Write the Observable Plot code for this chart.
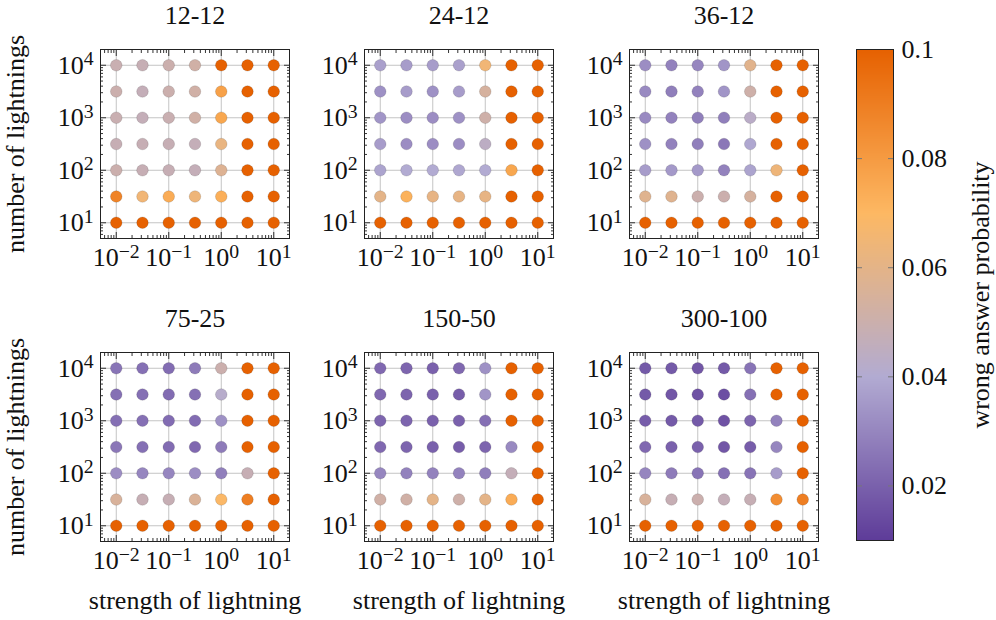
<!DOCTYPE html>
<html><head><meta charset="utf-8">
<script src="https://cdn.jsdelivr.net/npm/d3@7"></script>
<script src="https://cdn.jsdelivr.net/npm/@observablehq/plot@0.6"></script>
<style>
body{margin:0;background:#fff;}
#chart{position:relative;width:996px;height:620px;overflow:hidden;font-family:"Liberation Serif","Times New Roman",serif;}
#chart svg{position:absolute;max-width:none;}
#chart svg text{font-family:"Liberation Serif","Times New Roman",serif;font-variant-numeric:normal;}
</style></head><body><div id="chart"></div>
<script>
// strength of lightning (columns) and number of lightnings (rows, top -> bottom)
const strengths = [0.01, 0.0316, 0.1, 0.316, 1, 3.16, 10];
const lightnings = [10000, 3162, 1000, 316, 100, 31.6, 10];
const configs = ["12-12", "24-12", "36-12", "75-25", "150-50", "300-100"];

// wrong answer probability, rows follow `lightnings`, columns follow `strengths`
const prob_12_12 = [
  [0.049, 0.048, 0.050, 0.052, 0.100, 0.100, 0.100],
  [0.050, 0.047, 0.050, 0.052, 0.078, 0.100, 0.100],
  [0.049, 0.047, 0.049, 0.052, 0.076, 0.100, 0.100],
  [0.048, 0.048, 0.048, 0.047, 0.062, 0.100, 0.100],
  [0.050, 0.048, 0.048, 0.047, 0.057, 0.100, 0.100],
  [0.088, 0.065, 0.074, 0.064, 0.073, 0.100, 0.100],
  [0.100, 0.100, 0.100, 0.100, 0.100, 0.100, 0.100]
];
const prob_24_12 = [
  [0.037, 0.036, 0.036, 0.037, 0.065, 0.100, 0.100],
  [0.033, 0.036, 0.033, 0.036, 0.054, 0.100, 0.100],
  [0.034, 0.032, 0.032, 0.033, 0.051, 0.100, 0.100],
  [0.036, 0.032, 0.032, 0.032, 0.044, 0.100, 0.100],
  [0.038, 0.040, 0.040, 0.039, 0.040, 0.076, 0.100],
  [0.060, 0.072, 0.061, 0.061, 0.061, 0.100, 0.100],
  [0.100, 0.100, 0.100, 0.100, 0.100, 0.100, 0.100]
];
const prob_36_12 = [
  [0.032, 0.029, 0.030, 0.034, 0.059, 0.100, 0.100],
  [0.031, 0.028, 0.029, 0.034, 0.051, 0.100, 0.100],
  [0.031, 0.029, 0.028, 0.028, 0.043, 0.100, 0.100],
  [0.033, 0.029, 0.028, 0.026, 0.039, 0.100, 0.100],
  [0.036, 0.035, 0.035, 0.029, 0.038, 0.064, 0.100],
  [0.058, 0.058, 0.050, 0.050, 0.054, 0.100, 0.100],
  [0.100, 0.100, 0.100, 0.100, 0.100, 0.100, 0.100]
];
const prob_75_25 = [
  [0.025, 0.024, 0.023, 0.027, 0.050, 0.100, 0.100],
  [0.024, 0.024, 0.023, 0.024, 0.042, 0.100, 0.100],
  [0.024, 0.024, 0.023, 0.023, 0.033, 0.100, 0.100],
  [0.026, 0.024, 0.023, 0.022, 0.027, 0.100, 0.100],
  [0.032, 0.030, 0.030, 0.032, 0.028, 0.048, 0.100],
  [0.055, 0.048, 0.048, 0.056, 0.069, 0.090, 0.100],
  [0.100, 0.100, 0.100, 0.100, 0.100, 0.100, 0.100]
];
const prob_150_50 = [
  [0.022, 0.021, 0.020, 0.022, 0.033, 0.100, 0.100],
  [0.022, 0.021, 0.020, 0.019, 0.034, 0.100, 0.100],
  [0.021, 0.021, 0.020, 0.020, 0.024, 0.100, 0.100],
  [0.022, 0.021, 0.020, 0.019, 0.021, 0.031, 0.100],
  [0.030, 0.029, 0.029, 0.029, 0.028, 0.047, 0.100],
  [0.052, 0.052, 0.060, 0.051, 0.060, 0.074, 0.100],
  [0.100, 0.100, 0.100, 0.100, 0.100, 0.100, 0.100]
];
const prob_300_100 = [
  [0.018, 0.018, 0.017, 0.018, 0.025, 0.100, 0.100],
  [0.018, 0.017, 0.016, 0.015, 0.024, 0.100, 0.100],
  [0.019, 0.018, 0.018, 0.016, 0.021, 0.029, 0.100],
  [0.022, 0.020, 0.020, 0.017, 0.019, 0.030, 0.100],
  [0.030, 0.027, 0.025, 0.024, 0.025, 0.036, 0.100],
  [0.055, 0.048, 0.050, 0.047, 0.048, 0.085, 0.090],
  [0.100, 0.100, 0.100, 0.100, 0.100, 0.100, 0.100]
];
const probs = [prob_12_12, prob_24_12, prob_36_12, prob_75_25, prob_150_50, prob_300_100];

const xTicks = [0.01, 0.1, 1, 10];
const yTicks = [10, 100, 1000, 10000];
const colorTicks = [0.02, 0.04, 0.06, 0.08, 0.1];
const colorDomain = [0.01, 0.04, 0.07, 0.1];
const colorRange = ["#5e3c99", "#b2abd2", "#fdb863", "#e66101"];

const xLabel = "strength of lightning";
const yLabel = "number of lightnings";
const colorLabel = "wrong answer probability";

// ---------- layout ----------
const FONT = "Liberation Serif, Times New Roman, serif";
const FS = 26;
const PANEL = 189;
const colLeft = [100, 364, 629];
const rowTop = [49, 352];
const xDomain = [Math.pow(10, -2.3), Math.pow(10, 1.3)];
const yDomain = [Math.pow(10, 0.7), Math.pow(10, 4.3)];

function minorTicks(domain) {
  const out = [];
  for (let e = -4; e <= 5; e++) for (let k = 2; k <= 9; k++) {
    const v = k * Math.pow(10, e);
    if (v > domain[0] && v < domain[1]) out.push(v);
  }
  return out;
}
const xMinor = minorTicks(xDomain);
const yMinor = minorTicks(yDomain);
const logFmt = d => "10^" + String(Math.round(Math.log10(d))).replace("-", "\u2212");
const blank = () => "";

function superscript(svg) {
  d3.select(svg).selectAll('g[aria-label="x-axis tick label"] text, g[aria-label="y-axis tick label"] text').each(function () {
    const t = this.textContent;
    const parts = t.split("^");
    if (parts.length !== 2) return;
    const sel = d3.select(this);
    sel.text(null);
    sel.append("tspan").text(parts[0]);
    sel.append("tspan").attr("dy", "-0.42em").attr("font-size", "0.76em").text(parts[1]);
  });
}

const chart = document.getElementById("chart");
const colorScale = {type: "linear", domain: colorDomain, range: colorRange, clamp: true};

configs.forEach((name, i) => {
  const col = i % 3, row = Math.floor(i / 3);
  const table = [];
  lightnings.forEach((n, r) => strengths.forEach((s, c) => table.push({strength: s, lightnings: n, p: probs[i][r][c]})));
  const mL = 100, mT = 49, mR = 60, mB = 80;
  const tickAxes = (size) => [
    Plot.axisX({anchor: "bottom", ticks: size === 6 ? xTicks : xMinor, tickSize: size, dy: -size, tickFormat: blank, label: null, stroke: "#333"}),
    Plot.axisX({anchor: "top", ticks: size === 6 ? xTicks : xMinor, tickSize: size, dy: size, tickFormat: blank, label: null, stroke: "#333"}),
    Plot.axisY({anchor: "left", ticks: size === 6 ? yTicks : yMinor, tickSize: size, dx: size, tickFormat: blank, label: null, stroke: "#333"}),
    Plot.axisY({anchor: "right", ticks: size === 6 ? yTicks : yMinor, tickSize: size, dx: -size, tickFormat: blank, label: null, stroke: "#333"})
  ];
  const marks = [
    Plot.gridX({ticks: xTicks, stroke: "#c4c4c4", strokeOpacity: 1, strokeWidth: 1}),
    Plot.gridY({ticks: yTicks, stroke: "#c4c4c4", strokeOpacity: 1, strokeWidth: 1}),
    ...tickAxes(3),
    ...tickAxes(6),
    Plot.dot(table, {x: "strength", y: "lightnings", fill: "p", r: 5.8, stroke: "black", strokeOpacity: 0.18, strokeWidth: 0.7}),
    Plot.frame({stroke: "#222", strokeWidth: 1}),
    Plot.axisX({anchor: "bottom", ticks: xTicks, tickSize: 0, tickPadding: 9, tickFormat: logFmt, label: null, fontSize: FS, fontFamily: FONT, fill: "#111"}),
    Plot.axisY({anchor: "left", ticks: yTicks, tickSize: 0, tickPadding: 7, tickFormat: logFmt, label: null, fontSize: FS, fontFamily: FONT, fill: "#111"}),
    Plot.text([name], {frameAnchor: "top", dy: -34, text: d => d, fontSize: FS, fontFamily: FONT, fill: "#111", lineAnchor: "middle"})
  ];
  if (col === 0) marks.push(Plot.text([yLabel], {frameAnchor: "left", dx: -85, rotate: -90, textAnchor: "middle", text: d => d, fontSize: FS, fontFamily: FONT, fill: "#111", lineAnchor: "middle"}));
  if (row === 1) marks.push(Plot.text([xLabel], {frameAnchor: "bottom", dy: 59, text: d => d, fontSize: FS, fontFamily: FONT, fill: "#111", lineAnchor: "middle"}));
  const svg = Plot.plot({
    width: mL + PANEL + mR, height: mT + PANEL + mB,
    marginLeft: mL, marginTop: mT, marginRight: mR, marginBottom: mB,
    x: {type: "log", domain: xDomain, label: null},
    y: {type: "log", domain: yDomain, label: null},
    color: colorScale,
    style: {background: "transparent", overflow: "visible", fontFamily: FONT, fontSize: FS + "px"},
    marks
  });
  superscript(svg);
  svg.style.left = (colLeft[col] - mL) + "px";
  svg.style.top = (rowTop[row] - mT) + "px";
  chart.appendChild(svg);
});

// ---------- colour bar ----------
{
  const mL = 16, mT = 49, barW = 37, barH = 491;
  const W = 156, H = 620;
  const mR = W - mL - barW, mB = H - mT - barH;
  const svg = Plot.plot({
    width: W, height: H,
    marginLeft: mL, marginTop: mT, marginRight: mR, marginBottom: mB,
    x: {domain: [0, 1], axis: null},
    y: {domain: [0.01, 0.1], label: null},
    color: colorScale,
    style: {background: "transparent", overflow: "visible", fontFamily: FONT, fontSize: FS + "px"},
    marks: [
      Plot.raster({x1: 0, x2: 1, y1: 0.01, y2: 0.1, fill: (x, y) => y}),
      Plot.axisY({anchor: "left", ticks: colorTicks.slice(0, 4), tickSize: 6, dx: 6, tickFormat: blank, label: null, stroke: "#777"}),
      Plot.axisY({anchor: "right", ticks: colorTicks.slice(0, 4), tickSize: 6, dx: -6, tickFormat: blank, label: null, stroke: "#777"}),
      Plot.frame({stroke: "#222", strokeWidth: 1}),
      Plot.axisY({anchor: "right", ticks: colorTicks, tickSize: 0, tickPadding: 8, tickFormat: d => String(+d.toFixed(2)), label: null, fontSize: FS, fontFamily: FONT, fill: "#111"}),
      Plot.text([colorLabel], {frameAnchor: "right", dx: 87, rotate: -90, textAnchor: "middle", text: d => d, fontSize: FS, fontFamily: FONT, fill: "#111", lineAnchor: "middle"})
    ]
  });
  svg.style.left = "840px";
  svg.style.top = "0px";
  chart.appendChild(svg);
}
</script></body></html>
